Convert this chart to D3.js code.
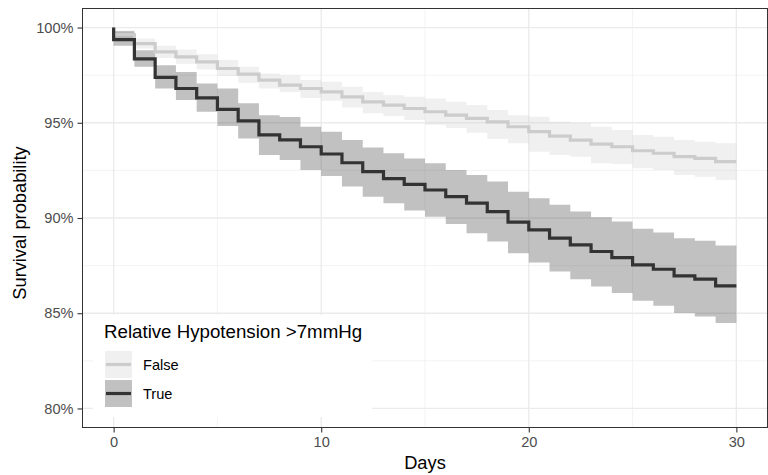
<!DOCTYPE html>
<html>
<head>
<meta charset="utf-8">
<script src="https://cdn.jsdelivr.net/npm/d3@7"></script>
<style>
  html, body { margin: 0; padding: 0; background: #fff; }
  svg { display: block; font-family: "Liberation Sans", Arial, Helvetica, sans-serif; }
</style>
</head>
<body>
<svg id="chart" width="768" height="475"></svg>
<script>
// ---- data ----
const days = d3.range(0, 31); // 0..30
const groups = ["False", "True"];
const legendTitle = "Relative Hypotension >7mmHg";
const xTicks = [0, 10, 20, 30];
const yTicks = [80, 85, 90, 95, 100];
const yTickLabels = ["80%", "85%", "90%", "95%", "100%"];
const startValue = 100;

// survival (%) on [day i, day i+1)
const falseSurv = [99.63, 99.16, 98.72, 98.46, 98.2, 97.85, 97.55, 97.24, 96.98, 96.8,
  96.62, 96.36, 96.1, 95.93, 95.75, 95.58, 95.4, 95.23, 95.05, 94.79,
  94.53, 94.3, 94.09, 93.88, 93.74, 93.53, 93.4, 93.22, 93.13, 92.96];
const falseUpper = [99.85, 99.42, 99.05, 98.85, 98.6, 98.3, 97.94, 97.59, 97.5, 97.24,
  97.15, 96.89, 96.62, 96.45, 96.36, 96.28, 96.1, 95.93, 95.67, 95.4,
  95.31, 95.05, 94.97, 94.79, 94.62, 94.36, 94.27, 94.09, 94.0, 93.92];
const falseLower = [99.4, 98.9, 98.4, 98.1, 97.8, 97.45, 97.1, 96.8, 96.62, 96.3,
  96.15, 95.8, 95.5, 95.35, 95.15, 94.9, 94.72, 94.48, 94.15, 93.92,
  93.48, 93.31, 93.22, 92.87, 92.84, 92.61, 92.52, 92.26, 92.17, 92.0];

const trueSurv = [99.37, 98.35, 97.38, 96.8, 96.31, 95.7, 95.1, 94.36, 94.1, 93.74,
  93.36, 92.9, 92.43, 92.07, 91.77, 91.47, 91.12, 90.78, 90.34, 89.78,
  89.38, 88.94, 88.59, 88.24, 87.92, 87.54, 87.31, 86.96, 86.79, 86.44];
const trueUpper = [99.8, 98.81, 98.02, 97.67, 97.06, 96.8, 96.02, 95.4, 95.3, 94.79,
  94.53, 94.09, 93.7, 93.4, 93.13, 92.87, 92.52, 92.26, 91.91, 91.38,
  91.04, 90.69, 90.34, 90.04, 89.81, 89.43, 89.24, 88.94, 88.8, 88.55];
const trueLower = [99.05, 97.94, 96.8, 96.19, 95.58, 94.83, 94.18, 93.31, 93.05, 92.52,
  92.21, 91.65, 91.12, 90.78, 90.39, 90.07, 89.69, 89.2, 88.76, 88.15,
  87.66, 87.19, 86.79, 86.4, 86.06, 85.66, 85.39, 85.01, 84.83, 84.49];

// ---- layout ----
const svg = d3.select("#chart");
const P = { left: 82.5, right: 767.5, top: 8.5, bottom: 427.5 };
const x = d3.scaleLinear().domain([-1.5, 31.5]).range([P.left, P.right]);
const y = d3.scaleLinear().domain([79, 101]).range([P.bottom, P.top]);

const series = [
  { name: "False", surv: falseSurv, up: falseUpper, lo: falseLower, line: "#cccccc", fill: "#cccccc" },
  { name: "True",  surv: trueSurv,  up: trueUpper,  lo: trueLower,  line: "#333333", fill: "#333333" }
];

// panel background
svg.append("rect").attr("x", P.left).attr("y", P.top)
  .attr("width", P.right - P.left).attr("height", P.bottom - P.top).attr("fill", "#fff");

// grid
const g = svg.append("g");
const minorY = [82.5, 87.5, 92.5, 97.5];
const minorX = [5, 15, 25];
g.selectAll(".ymin").data(minorY).join("line")
  .attr("x1", P.left).attr("x2", P.right).attr("y1", d => y(d)).attr("y2", d => y(d))
  .attr("stroke", "#f0f0f0").attr("stroke-width", 0.8);
g.selectAll(".xmin").data(minorX).join("line")
  .attr("y1", P.top).attr("y2", P.bottom).attr("x1", d => x(d)).attr("x2", d => x(d))
  .attr("stroke", "#f0f0f0").attr("stroke-width", 0.8);
g.selectAll(".ymaj").data(yTicks).join("line")
  .attr("x1", P.left).attr("x2", P.right).attr("y1", d => y(d)).attr("y2", d => y(d))
  .attr("stroke", "#ebebeb").attr("stroke-width", 1.3);
g.selectAll(".xmaj").data(xTicks).join("line")
  .attr("y1", P.top).attr("y2", P.bottom).attr("x1", d => x(d)).attr("x2", d => x(d))
  .attr("stroke", "#ebebeb").attr("stroke-width", 1.3);

// bands
const area = d3.area().curve(d3.curveStepAfter)
  .x(d => x(d.t)).y0(d => y(d.lo)).y1(d => y(d.up));
const line = d3.line().curve(d3.curveStepAfter).x(d => x(d.t)).y(d => y(d.v));

series.forEach(s => {
  const pts = days.map(t => {
    const i = Math.min(t, s.up.length - 1);
    return { t, up: s.up[i], lo: s.lo[i] };
  });
  svg.append("path").attr("d", area(pts)).attr("fill", s.fill).attr("fill-opacity", 0.3);
});
series.forEach(s => {
  const pts = [{ t: 0, v: startValue }].concat(days.map(t => {
    const i = Math.min(t, s.surv.length - 1);
    return { t, v: s.surv[i] };
  }));
  svg.append("path").attr("d", line(pts)).attr("fill", "none")
    .attr("stroke", s.line).attr("stroke-width", 3.2);
});

// legend
const lg = svg.append("g");
lg.append("rect").attr("x", 93).attr("y", 315).attr("width", 279).attr("height", 102).attr("fill", "#fff");
lg.append("text").attr("x", 104).attr("y", 337.5).attr("font-size", 18.7).attr("fill", "#000").text(legendTitle);
series.forEach((s, i) => {
  const ky = 351 + i * 29;
  lg.append("rect").attr("x", 105).attr("y", ky).attr("width", 27).attr("height", 27)
    .attr("fill", s.fill).attr("fill-opacity", 0.3);
  lg.append("line").attr("x1", 106).attr("x2", 131).attr("y1", ky + 13.5).attr("y2", ky + 13.5)
    .attr("stroke", s.line).attr("stroke-width", 3.2);
  lg.append("text").attr("x", 143).attr("y", ky + 18.5).attr("font-size", 14.6).attr("fill", "#000").text(s.name);
});

// panel border
svg.append("rect").attr("x", P.left).attr("y", P.top)
  .attr("width", P.right - P.left).attr("height", P.bottom - P.top)
  .attr("fill", "none").attr("stroke", "#333").attr("stroke-width", 1);

// axes
const yAxis = d3.axisLeft(y).tickValues(yTicks).tickSize(5).tickPadding(4)
  .tickFormat((d, i) => yTickLabels[i]);
const ya = svg.append("g").attr("transform", `translate(${P.left},0)`).call(yAxis);
ya.select(".domain").remove();
ya.selectAll(".tick line").attr("stroke", "#333").attr("stroke-width", 1.1);
ya.selectAll(".tick text").attr("fill", "#4d4d4d").attr("font-size", 14.6)
  .attr("font-family", "Liberation Sans, Arial, sans-serif");

const xAxis = d3.axisBottom(x).tickValues(xTicks).tickSize(5).tickPadding(4);
const xa = svg.append("g").attr("transform", `translate(0,${P.bottom})`).call(xAxis);
xa.select(".domain").remove();
xa.selectAll(".tick line").attr("stroke", "#333").attr("stroke-width", 1.1);
xa.selectAll(".tick text").attr("fill", "#4d4d4d").attr("font-size", 14.6)
  .attr("font-family", "Liberation Sans, Arial, sans-serif");

// titles
svg.append("text").attr("x", (P.left + P.right) / 2).attr("y", 468.5)
  .attr("text-anchor", "middle").attr("font-size", 18.3).attr("fill", "#000").text("Days");
svg.append("text").attr("transform", `translate(26,${(P.top + P.bottom) / 2 + 5}) rotate(-90)`)
  .attr("text-anchor", "middle").attr("font-size", 18.3).attr("fill", "#000").text("Survival probability");
</script>
</body>
</html>
